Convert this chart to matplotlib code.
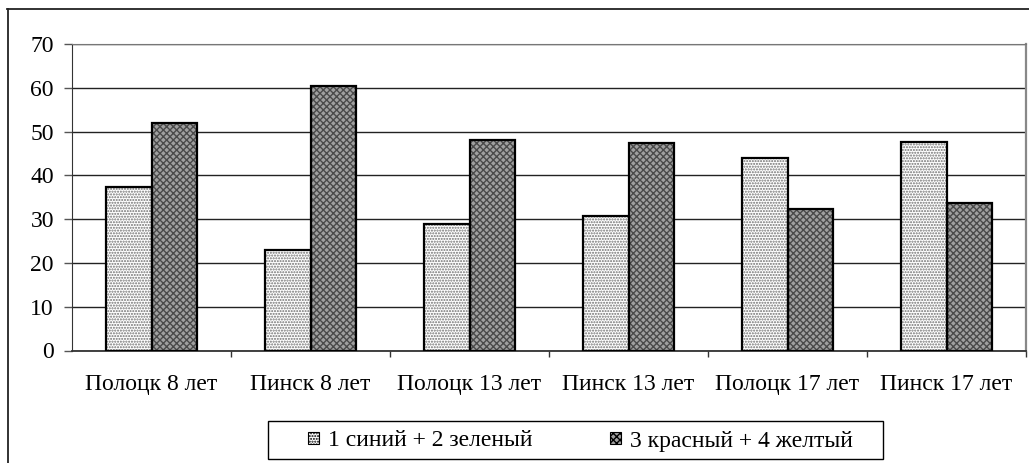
import numpy as np
import matplotlib
matplotlib.use("Agg")
import matplotlib.pyplot as plt
from matplotlib.patches import Patch, Rectangle
from matplotlib.lines import Line2D

categories = ["Полоцк 8 лет", "Пинск 8 лет", "Полоцк 13 лет",
              "Пинск 13 лет", "Полоцк 17 лет", "Пинск 17 лет"]
series_names = ["1 синий + 2 зеленый", "3 красный + 4 желтый"]
blue_green = [37.3, 22.9, 28.8, 30.7, 43.9, 47.7]
red_yellow = [51.9, 60.4, 48.1, 47.3, 32.3, 33.8]
yticks = [0, 10, 20, 30, 40, 50, 60, 70]

plt.rcParams['font.family'] = ['Liberation Serif', 'DejaVu Serif']
plt.rcParams['hatch.linewidth'] = 1.0

W, H = 1029, 463
fig = plt.figure(figsize=(W / 100, H / 100), dpi=100)
ax = fig.add_axes([72 / W, 1 - 350.5 / H, (1026 - 72) / W, (350.5 - 44) / H])

x = np.arange(len(categories))
w = 0.288

# hatched fill first (hatch colour follows edgecolor), then black outline on top
styles = [dict(face="white", hatch="......", hc="#707070"),
          dict(face="#a0a0a0", hatch="xxxxx", hc="#4a4a4a")]
for vals, off, st in zip([blue_green, red_yellow], [-w / 2, w / 2], styles):
    ax.bar(x + off, vals, w, color=st["face"], hatch=st["hatch"],
           edgecolor=st["hc"], linewidth=0, zorder=3)
    ax.bar(x + off, vals, w, fill=False, edgecolor="black", linewidth=1.6, zorder=4)

ax.set_xlim(-0.5, 5.5)
ax.set_ylim(0, 70)
ax.set_yticks(yticks)
ax.yaxis.grid(True, color="#222222", linewidth=1.0, zorder=0)
ax.set_axisbelow(True)

ax.set_xticks(x)
ax.set_xticklabels(categories, fontsize=17)
ax.set_xticks(np.arange(0.5, 6.0, 1.0), minor=True)
ax.tick_params(axis="x", which="major", length=0, pad=17)
ax.tick_params(axis="x", which="minor", length=4, width=1, direction="out", color="#333333")
ax.tick_params(axis="y", length=6, width=1, direction="out", color="#555555",
               pad=7, labelsize=17)

ax.spines["left"].set_color("#333333")
ax.spines["bottom"].set_color("#333333")
ax.spines["bottom"].set_linewidth(1.3)
ax.spines["top"].set_color("#777777")
ax.spines["right"].set_color("#888888")
ax.spines["right"].set_linewidth(1.6)

# outer chart frame (cropped: only top and left visible)
fig.add_artist(Line2D([7 / W, 1.0], [1 - 8.5 / H] * 2, color="#222222", lw=1.3,
                      transform=fig.transFigure))
fig.add_artist(Line2D([7.5 / W] * 2, [0, 1 - 8.5 / H], color="#222222", lw=1.3,
                      transform=fig.transFigure))

# legend box drawn separately (Excel-style uneven padding)
fig.add_artist(Rectangle((268 / W, 1 - 459 / H), (883 - 268) / W, 38 / H,
                         transform=fig.transFigure, fill=False, edgecolor="black", lw=1.0))
handles = [Patch(facecolor=st["face"], hatch=st["hatch"], edgecolor="black", linewidth=0.8)
           for st in styles]
leg = fig.legend(handles, series_names, loc="center left",
                 bbox_to_anchor=(308 / W, 1 - 441 / H),
                 ncol=2, fontsize=17, frameon=False,
                 handlelength=0.45, handleheight=0.45, handletextpad=0.38,
                 columnspacing=3.3, borderpad=0, borderaxespad=0)

fig.savefig("out.png", dpi=100)
